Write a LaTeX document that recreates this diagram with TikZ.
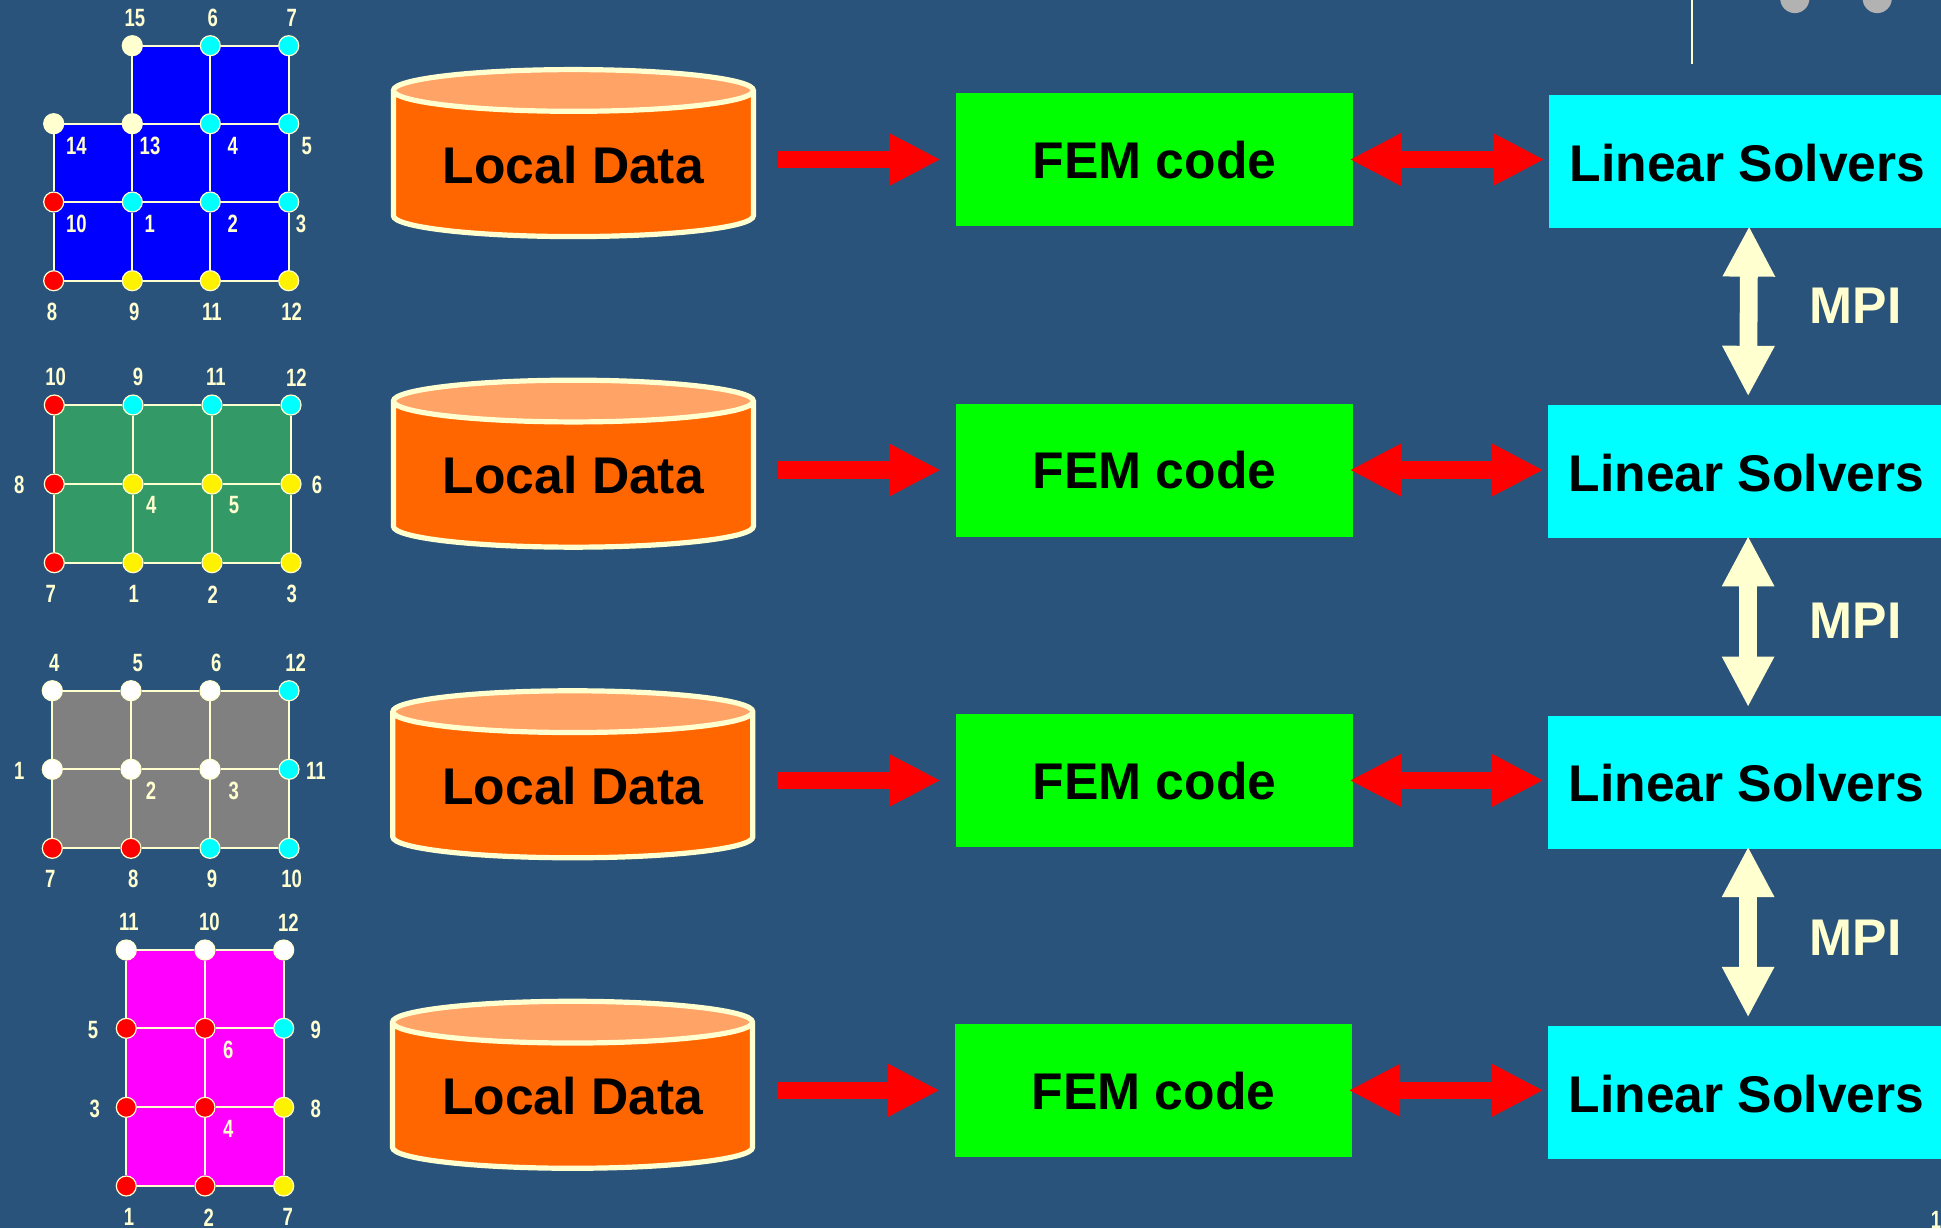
\documentclass[tikz,border=0pt]{standalone}
\usepackage{fontspec}
\setmainfont{Liberation Sans}
\newfontfamily\numfont[FakeStretch=.74]{Liberation Sans}
\usetikzlibrary{shapes.geometric,arrows.meta,backgrounds}
\definecolor{pagebg}{HTML}{2A537B}
\definecolor{cream}{HTML}{FFFFD0}
\definecolor{dataorange}{HTML}{FF6600}
\definecolor{datatop}{HTML}{FFA366}
\definecolor{partgreen}{HTML}{339966}
\definecolor{purecyan}{HTML}{00FFFF}
\definecolor{puremagenta}{HTML}{FF00FF}
\tikzset{
	meshdot/.style={circle,draw=cream,line width=.6pt,minimum size=10pt,inner sep=0pt},
	meshline/.style={cream,line width=.85pt},
	numlabel/.style={text=cream,inner sep=0pt,font=\numfont\bfseries\fontsize{12.5}{14}\selectfont},
	bigtext/.style={inner sep=0pt,font=\bfseries\fontsize{25.8}{30}\selectfont},
	datanode/.style={bigtext,cylinder,shape border rotate=90,aspect=.16,draw=cream,line width=2.6pt,minimum width=180pt,minimum height=83.5pt,cylinder uses custom fill,cylinder body fill=dataorange,cylinder end fill=datatop},
	femnode/.style={bigtext,fill=green,minimum width=198.5pt,minimum height=66.5pt,text height=18.7pt,text depth=0pt},
	solvernode/.style={bigtext,fill=purecyan,minimum width=198.5pt,minimum height=66.5pt,text height=19.7pt,text depth=0pt},
	mpinode/.style={bigtext,text=cream},
	oneway/.style={red,line width=8.65pt,-{Triangle[length=25.8pt,width=24.4pt]}},
	twoway/.style={red,line width=8.65pt,{Triangle[length=25.8pt,width=24.4pt]}-{Triangle[length=25.8pt,width=24.4pt]}},
	mpiway/.style={cream,line width=8.9pt,{Triangle[length=25.3pt,width=24.4pt]}-{Triangle[length=25.3pt,width=24.4pt]}}
}
\begin{document}
\begin{tikzpicture}[x=.5pt,y=-.5pt]
	\useasboundingbox (0,0) rectangle (1941,1228);
	% first partition
	\foreach \n/\x/\y/\col/\lx/\ly in {15/132.3/45.7/cream/135/18,6/210.3/45.7/purecyan/212.7/18,7/288.7/45.7/purecyan/291.7/18,
		14/53.7/123.7/cream/76.3/145.7,13/132.3/123.7/cream/150/145.7,4/210.3/123.7/purecyan/232.7/145.7,5/288.7/123.7/purecyan/306.7/145.7,
		10/53.7/202/red/76.3/224,1/132.3/202/purecyan/149.7/224,2/210.3/202/purecyan/232.7/224,3/288.7/202/purecyan/301/224,
		8/53.7/280.7/red/52/312,9/132.3/280.7/yellow/134.3/312,11/210.3/280.7/yellow/212/312,12/288.7/280.7/yellow/291.7/312}
		{\node[meshdot,fill=\col] (a\n) at (\x,\y) {};
		\node[numlabel] (la\n) at (\lx,\ly) {\n};}
	% second partition
	\foreach \n/\x/\y/\col/\lx/\ly in {10/54.3/405/red/55.7/377.3,9/133/405/purecyan/138/377.3,11/212/405/purecyan/216/377.3,12/291/405/purecyan/296.3/377.3,
		8/54.3/484/red/19.3/485,4/133/484/yellow/151.3/505,5/212/484/yellow/234/505,6/291/484/yellow/317/485,
		7/54.3/562.7/red/50.7/594.3,1/133/562.7/yellow/133.7/594.3,2/212/562.7/yellow/212.7/594.3,3/291/562.7/yellow/291.7/594.3}
		{\node[meshdot,fill=\col] (b\n) at (\x,\y) {};
		\node[numlabel] (lb\n) at (\lx,\ly) {\n};}
	% third partition
	\foreach \n/\x/\y/\col/\lx/\ly in {4/52.3/690.7/white/54.3/662.7,5/131/690.7/white/137.7/662.7,6/210/690.7/white/216.3/662.7,12/289/690.7/purecyan/295.7/662.7,
		1/52.3/769.3/white/19.3/770.7,2/131/769.3/white/151/790.7,3/210/769.3/white/233.7/790.7,11/289/769.3/purecyan/316/770.7,
		7/52.3/848.3/red/50.3/879.3,8/131/848.3/red/133.3/879.3,9/210/848.3/purecyan/212/879.3,10/289/848.3/purecyan/291.7/879.3}
		{\node[meshdot,fill=\col] (c\n) at (\x,\y) {};
		\node[numlabel] (lc\n) at (\lx,\ly) {\n};}
	% fourth partition
	\foreach \n/\x/\y/\col/\lx/\ly in {11/126.3/950/white/129/922.3,10/205/950/white/209.3/922.3,12/283.7/950/white/288.3/922.3,
		5/126.3/1028.3/red/93/1030,6/205/1028.3/red/228.3/1050,9/283.7/1028.3/purecyan/315.7/1030,
		3/126.3/1107.3/red/94.7/1109.3,4/205/1107.3/red/228.3/1129.3,8/283.7/1107.3/yellow/315.7/1109.3,
		1/126.3/1186/red/129/1217.3,2/205/1186/red/208.7/1217.3,7/283.7/1186/yellow/287.7/1217.3}
		{\node[meshdot,fill=\col] (d\n) at (\x,\y) {};
		\node[numlabel] (ld\n) at (\lx,\ly) {\n};}
	% rows
	\node[datanode] (data1) at (573.4,164.8) {Local Data};
	\node[femnode] (fem1) at (1154.5,159.5) {FEM code};
	\node[solvernode] (solver1) at (1747.5,161.5) {Linear Solvers};
	\node[datanode] (data2) at (573.4,475.4) {Local Data};
	\node[femnode] (fem2) at (1154.5,470) {FEM code};
	\node[solvernode] (solver2) at (1746.5,471.3) {Linear Solvers};
	\node[datanode] (data3) at (572.8,786) {Local Data};
	\node[femnode] (fem3) at (1154.5,780.4) {FEM code};
	\node[solvernode] (solver3) at (1746.5,782) {Linear Solvers};
	\node[datanode] (data4) at (572.5,1096.5) {Local Data};
	\node[femnode] (fem4) at (1153.5,1090.3) {FEM code};
	\node[solvernode] (solver4) at (1746.5,1092.3) {Linear Solvers};
	\node[mpinode] (mpi1) at (1855.5,305.5) {MPI};
	\node[mpinode] (mpi2) at (1855.5,621) {MPI};
	\node[mpinode] (mpi3) at (1855.5,938) {MPI};
	\foreach \r in {1,2,3,4}
		{\draw[oneway,shorten <=11pt,shorten >=7.4pt] (fem\r.west -| data\r.east) -- (fem\r.west);
		\draw[twoway,shorten <=-2pt,shorten >=2pt] (fem\r.east) -- (fem\r.east -| solver\r.west);}
	\draw[mpiway,shorten <=-1.2pt,shorten >=4pt] ([xshift=.8pt]solver1.south) -- ([xshift=.8pt]solver2.north);
	\draw[mpiway,shorten <=-1.2pt,shorten >=4pt] ([xshift=.8pt]solver2.south) -- ([xshift=.8pt]solver3.north);
	\draw[mpiway,shorten <=-1.2pt,shorten >=4pt] ([xshift=.8pt]solver3.south) -- ([xshift=.8pt]solver4.north);
	% bits cut off by the page
	\coordinate (linetop) at (1692,0);
	\coordinate (linebottom) at (1692,64.3);
	\draw[cream,line width=1pt] (linetop) -- (linebottom);
	\fill[gray!60] (1794.8,-1.5) circle (7.3pt) (1877.2,-1.5) circle (7.3pt);
	\node[numlabel] (pagenum) at (1936,1220) {1};
	\begin{scope}[on background layer]
		\fill[pagebg] (0,0) rectangle (1941,1228);
		\fill[blue] (a15.center) -- (a7.center) -- (a12.center) -- (a8.center) -- (a14.center) -- (a13.center) -- cycle;
		\draw[meshline] (a15) -- (a6) -- (a7) (a14) -- (a13) -- (a4) -- (a5) (a10) -- (a1) -- (a2) -- (a3) (a8) -- (a9) -- (a11) -- (a12)
			(a14) -- (a10) -- (a8) (a15) -- (a13) -- (a1) -- (a9) (a6) -- (a4) -- (a2) -- (a11) (a7) -- (a5) -- (a3) -- (a12);
		\fill[partgreen] (b10.center) -- (b12.center) -- (b3.center) -- (b7.center) -- cycle;
		\draw[meshline] (b10) -- (b9) -- (b11) -- (b12) (b8) -- (b4) -- (b5) -- (b6) (b7) -- (b1) -- (b2) -- (b3)
			(b10) -- (b8) -- (b7) (b9) -- (b4) -- (b1) (b11) -- (b5) -- (b2) (b12) -- (b6) -- (b3);
		\fill[gray] (c4.center) -- (c12.center) -- (c10.center) -- (c7.center) -- cycle;
		\draw[meshline] (c4) -- (c5) -- (c6) -- (c12) (c1) -- (c2) -- (c3) -- (c11) (c7) -- (c8) -- (c9) -- (c10)
			(c4) -- (c1) -- (c7) (c5) -- (c2) -- (c8) (c6) -- (c3) -- (c9) (c12) -- (c11) -- (c10);
		\fill[puremagenta] (d11.center) -- (d12.center) -- (d7.center) -- (d1.center) -- cycle;
		\draw[meshline] (d11) -- (d10) -- (d12) (d5) -- (d6) -- (d9) (d3) -- (d4) -- (d8) (d1) -- (d2) -- (d7)
			(d11) -- (d5) -- (d3) -- (d1) (d10) -- (d6) -- (d4) -- (d2) (d12) -- (d9) -- (d8) -- (d7);
	\end{scope}
\end{tikzpicture}
\end{document}
